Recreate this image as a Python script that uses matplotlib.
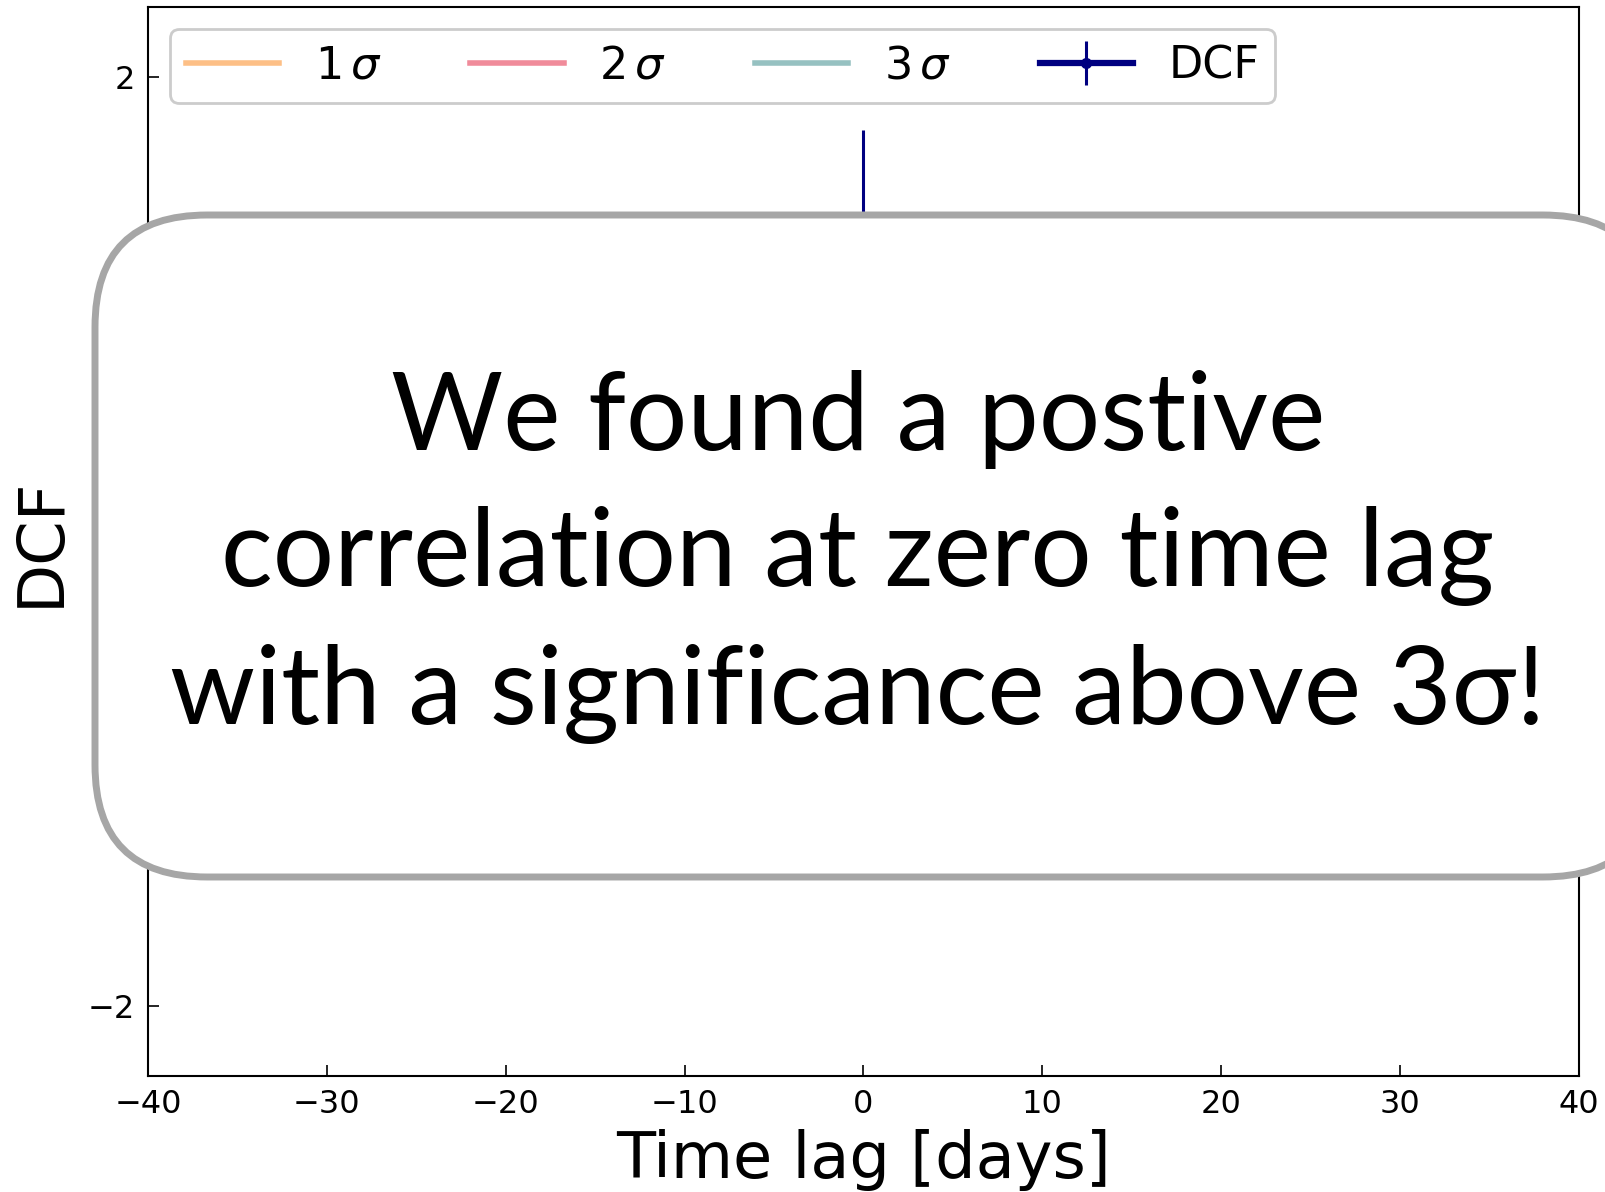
import numpy as np
import matplotlib
matplotlib.use("Agg")
import matplotlib.pyplot as plt
from matplotlib.patches import FancyBboxPatch

# lag grid and DCF results
lags = [-40, -36, -32, -28, -24, -20, -16, -12, -8, -4, 0, 4, 8, 12, 16, 20, 24, 28, 32, 36, 40]
dcf = [0.10, -0.25, 0.05, -0.40, -0.15, 0.20, -0.30, 0.15, 0.35, 0.55, 1.05, 0.45, 0.20, -0.10, 0.25, -0.20, -0.35, 0.05, 0.15, -0.05, 0.10]
dcf_err = [0.30, 0.28, 0.30, 0.32, 0.28, 0.30, 0.30, 0.28, 0.30, 0.32, 0.72, 0.32, 0.30, 0.28, 0.30, 0.30, 0.28, 0.32, 0.30, 0.28, 0.30]

# significance levels from simulated light curves
sig1 = [0.45, 0.44, 0.46, 0.47, 0.45, 0.44, 0.46, 0.45, 0.47, 0.48, 0.48, 0.47, 0.46, 0.45, 0.44, 0.46, 0.45, 0.47, 0.46, 0.44, 0.45]
sig2 = [0.85, 0.84, 0.86, 0.88, 0.85, 0.84, 0.87, 0.86, 0.88, 0.90, 0.90, 0.89, 0.87, 0.85, 0.84, 0.86, 0.85, 0.88, 0.86, 0.84, 0.85]
sig3 = [1.20, 1.18, 1.22, 1.24, 1.20, 1.19, 1.23, 1.21, 1.24, 1.26, 1.26, 1.25, 1.22, 1.20, 1.19, 1.22, 1.20, 1.24, 1.21, 1.19, 1.20]

xticks = [-40, -30, -20, -10, 0, 10, 20, 30, 40]
yticks = [-2, 2]

fig = plt.figure(figsize=(16.05, 11.92), dpi=100)
ax = fig.add_axes([0.0922, 0.0973, 0.8916, 0.8968])

lags_arr = np.array(lags)
for lev, col, lab in [(sig1, "#fdbf86", r"$1\,\sigma$"),
                      (sig2, "#f08b9a", r"$2\,\sigma$"),
                      (sig3, "#96c1c1", r"$3\,\sigma$")]:
    lev = np.array(lev)
    ax.plot(lags_arr, lev, color=col, lw=4, label=lab)
    ax.plot(lags_arr, -lev, color=col, lw=4)

ax.errorbar(lags, dcf, yerr=dcf_err, fmt="-o", color="#000080", lw=4.5,
            elinewidth=2.2, ms=7, label="DCF")

ax.set_xlim(-40, 40)
ax.set_ylim(-2.3, 2.3)
ax.set_xticks(xticks)
ax.set_yticks(yticks)
ax.tick_params(direction="in", length=8, width=1.2, labelsize=23, pad=9)
for s in ax.spines.values():
    s.set_linewidth(1.5)
ax.set_xlabel("Time lag [days]", fontsize=46, labelpad=7)
ax.set_ylabel("DCF", fontsize=46, labelpad=12)

leg = ax.legend(loc="upper left", ncol=4, fontsize=32, handlelength=2.1,
                handletextpad=0.8, columnspacing=2.0, framealpha=1,
                borderpad=0.35)
leg.get_frame().set_edgecolor("#cccccc")
leg.get_frame().set_linewidth(2)

# callout box drawn over the plot, in pixel coordinates
ov = fig.add_axes([0, 0, 1, 1])
ov.set_xlim(0, 1605)
ov.set_ylim(1192, 0)
ov.axis("off")
box = FancyBboxPatch((95, 215), 1560, 662,
                     boxstyle="round,pad=0,rounding_size=112",
                     facecolor="white", edgecolor="#a6a6a6", lw=5)
ov.add_patch(box)
ov.text(858, 557, "We found a postive\ncorrelation at zero time lag\nwith a significance above 3σ!",
        ha="center", va="center", fontsize=78, family=["Lato", "DejaVu Sans"],
        linespacing=1.47)

fig.savefig("out.png", dpi=100)
